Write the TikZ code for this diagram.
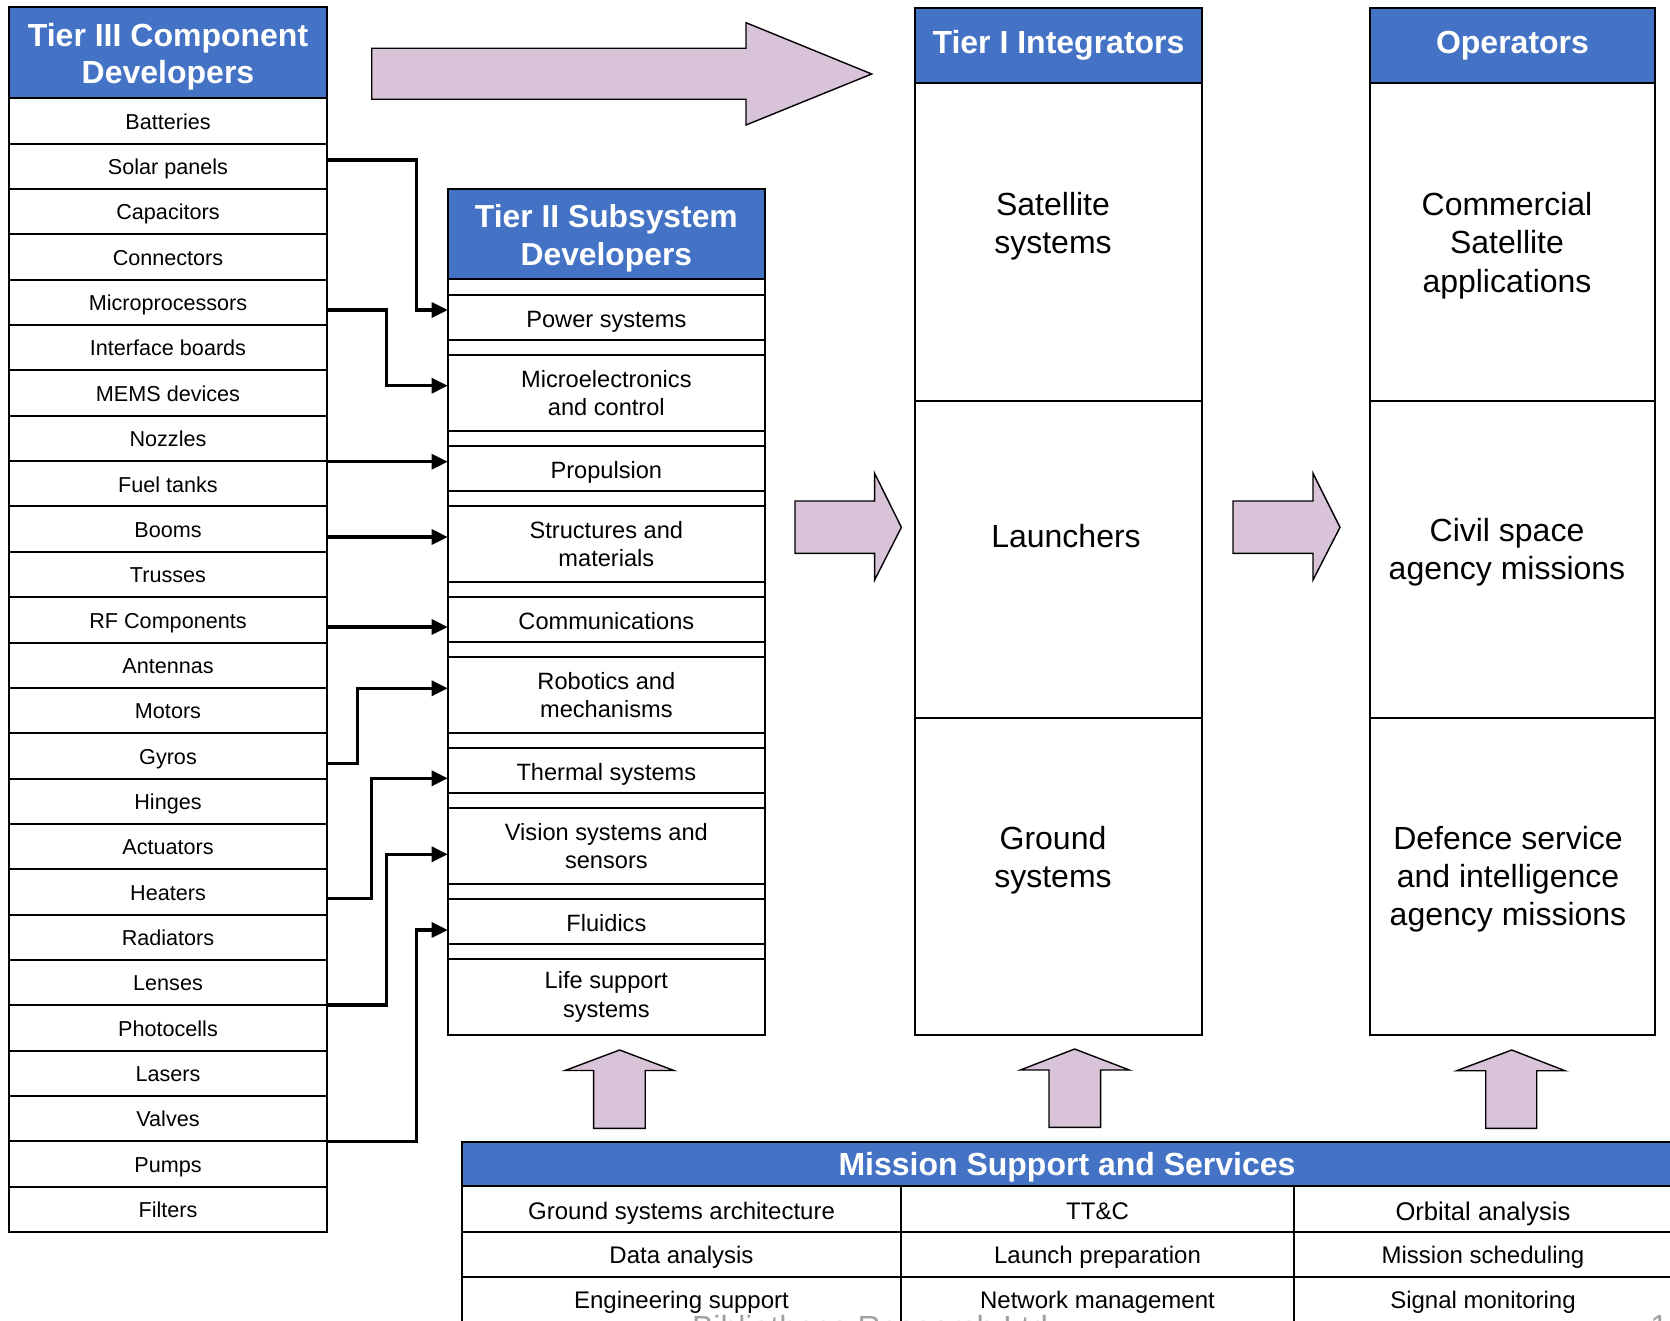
\documentclass[tikz,border=0pt]{standalone}
\usepackage{fontspec}
\setmainfont{Liberation Sans}
\usetikzlibrary{arrows.meta}
\definecolor{hdrblue}{RGB}{68,114,196}
\definecolor{flowpink}{RGB}{217,195,217}
\definecolor{footgray}{RGB}{160,160,160}

\newcommand{\sizefont}[2]{\fontsize{#1}{#2}\selectfont}

\tikzset{
  cell/.style={draw=black, line width=1pt, inner sep=0pt, outer sep=0pt, align=center},
  headbox/.style={cell, fill=hdrblue, text=white},
  headtext/.style={inner sep=0pt, align=center, text=white},
  complist/.style={cell, minimum width=159pt, minimum height=22.675pt,
     font=\sizefont{10.8}{13}, text height=8.25pt, text depth=0pt},
  subone/.style={cell, minimum width=158.65pt, minimum height=22.5pt,
     font=\sizefont{11.8}{14.3}, text height=9.8pt, text depth=0pt},
  subtwo/.style={cell, minimum width=158.65pt, minimum height=38pt,
     font=\sizefont{11.8}{14.3}},
  bigcell/.style={cell, minimum height=158.75pt},
  bigtext/.style={inner sep=0pt, align=center, font=\sizefont{16}{19.2}},
  svc/.style={cell, font=\sizefont{12}{14}, text height=8.6pt, text depth=0pt},
  feed/.style={line width=1.6pt, -{Triangle[length=8pt,width=7.5pt]}, line join=miter},
  flow/.style={draw=black, line width=0.7pt, fill=flowpink, line join=miter},
  footer/.style={inner sep=0pt, text=footgray, font=\sizefont{16}{19}}
}

\begin{document}
\begin{tikzpicture}[x=0.5pt, y=-0.5pt]
\useasboundingbox (0,0) rectangle (1670,1321);
\clip (0,0) rectangle (1670,1321);
\fill[white] (0,0) rectangle (1670,1321);

% ---- Tier III column ----
\node[headbox, minimum width=159pt, minimum height=45.4pt] (hIII) at (168,52.9) {};
\node[headtext, font=\sizefont{16}{18.8}\bfseries] (hIIIt) at (168,56.7) {Tier III Component\\Developers};
\foreach \t [count=\k from 0] in {Batteries,Solar panels,Capacitors,Connectors,Microprocessors,Interface boards,MEMS devices,Nozzles,Fuel tanks,Booms,Trusses,RF Components,Antennas,Motors,Gyros,Hinges,Actuators,Heaters,Radiators,Lenses,Photocells,Lasers,Valves,Pumps,Filters}
  \node[complist] (c\k) at (168,{98.3+45.35*(\k+0.5)}) {\t};

% ---- Tier II column ----
\node[headbox, minimum width=158.65pt, minimum height=45pt] (hII) at (606.35,234.3) {};
\node[headtext, font=\sizefont{15.9}{19.2}\bfseries] (hIIt) at (606.35,238.5) {Tier II Subsystem\\Developers};
\node[subone] (s1) at (606.35,317.5) {Power systems};
\node[subtwo] (s2) at (606.35,393) {Microelectronics\\and control};
\node[subone] (s3) at (606.35,468.5) {Propulsion};
\node[subtwo] (s4) at (606.35,544) {Structures and\\materials};
\node[subone] (s5) at (606.35,619.5) {Communications};
\node[subtwo] (s6) at (606.35,695) {Robotics and\\mechanisms};
\node[subone] (s7) at (606.35,770.5) {Thermal systems};
\node[subtwo] (s8) at (606.35,846) {Vision systems and\\sensors};
\node[subone] (s9) at (606.35,921.5) {Fluidics};
\node[subtwo] (s10) at (606.35,997) {Life support\\systems};
\draw[line width=1pt] (hII.south west) rectangle (s10.south east);

% ---- Tier I column ----
\node[headbox, minimum width=143.5pt, minimum height=37.5pt,
      font=\sizefont{16}{18}\bfseries] (hI) at (1058.5,45.5) {Tier I Integrators};
\node[bigcell, minimum width=143.5pt] (i1) at (1058.5,241.75) {};
\node[bigcell, minimum width=143.5pt] (i2) at (1058.5,559.25) {};
\node[bigcell, minimum width=143.5pt] (i3) at (1058.5,876.5) {};
\node[bigtext] (i1t) at (1053,226.4) {Satellite\\systems};
\node[bigtext] (i2t) at (1066,535.9) {Launchers};
\node[bigtext] (i3t) at (1053,860.3) {Ground\\systems};

% ---- Operators column ----
\node[headbox, minimum width=142.5pt, minimum height=37.5pt,
      font=\sizefont{16}{18}\bfseries] (hO) at (1512.5,45.5) {Operators};
\node[bigcell, minimum width=142.5pt] (o1) at (1512.5,241.75) {};
\node[bigcell, minimum width=142.5pt] (o2) at (1512.5,559.25) {};
\node[bigcell, minimum width=142.5pt] (o3) at (1512.5,876.5) {};
\node[bigtext] (o1t) at (1507,245.5) {Commercial\\Satellite\\applications};
\node[bigtext] (o2t) at (1507,552.2) {Civil space\\agency missions};
\node[bigtext] (o3t) at (1508,879.2) {Defence service\\and intelligence\\agency missions};

% ---- Mission support table ----
\node[headbox, minimum width=605pt, minimum height=22.15pt,
      font=\sizefont{16}{19}\bfseries, text height=11.5pt, text depth=0pt] (hM) at (1067,1163.85) {Mission Support and Services};
\node[svc, minimum width=219.5pt, minimum height=23pt, text height=10.7pt] (m11) at (681.5,1209) {Ground systems architecture};
\node[svc, minimum width=196.5pt, minimum height=23pt, text height=10.7pt] (m12) at (1097.5,1209) {TT\&C};
\node[svc, minimum width=189pt, minimum height=23pt, font=\sizefont{12.8}{15}, text height=11.2pt] (m13) at (1483,1209) {Orbital analysis};
\node[svc, minimum width=219.5pt, minimum height=22.5pt] (m21) at (681.5,1254.5) {Data analysis};
\node[svc, minimum width=196.5pt, minimum height=22.5pt] (m22) at (1097.5,1254.5) {Launch preparation};
\node[svc, minimum width=189pt, minimum height=22.5pt] (m23) at (1483,1254.5) {Mission scheduling};
\node[svc, minimum width=219.5pt, minimum height=23pt] (m31) at (681.5,1300) {Engineering support};
\node[svc, minimum width=196.5pt, minimum height=23pt] (m32) at (1097.5,1300) {Network management};
\node[svc, minimum width=189pt, minimum height=23pt] (m33) at (1483,1300) {Signal monitoring};

% ---- Block arrows ----
\draw[flow] (371.7,48.3) -- (746,48.3) -- (746,22.7) -- (871.7,74) -- (746,125) -- (746,99.3) -- (371.7,99.3) -- cycle;
\draw[flow] (795,501) -- (874.6,501) -- (874.6,473.3) -- (901.4,527.3) -- (874.6,580) -- (874.6,553.3) -- (795,553.3) -- cycle;
\draw[flow] (1233,501) -- (1313,501) -- (1313,473.3) -- (1340,527.3) -- (1313,580) -- (1313,553.3) -- (1233,553.3) -- cycle;
\draw[flow] (593.6,1128.3) -- (593.6,1070.5) -- (565,1070.5) -- (619.6,1050) -- (674,1070.5) -- (645.2,1070.5) -- (645.2,1128.3) -- cycle;
\draw[flow] (1049,1127.3) -- (1049,1070) -- (1020.3,1070) -- (1074.6,1049) -- (1129.4,1070) -- (1100.6,1070) -- (1100.6,1127.3) -- cycle;
\draw[flow] (1485.7,1128.3) -- (1485.7,1070.7) -- (1456.7,1070.7) -- (1511.7,1050) -- (1565,1070.7) -- (1536.7,1070.7) -- (1536.7,1128.3) -- cycle;

% ---- Component to subsystem feeds ----
\coordinate (p1) at ([yshift=3.15pt]c1.east);
\coordinate (q1) at ([yshift=3.75pt]s1.west);
\draw[feed] (p1) -- ++(89.7,0) |- (q1);
\coordinate (p2) at ([yshift=-3.8pt]c4.east);
\coordinate (q2) at ([yshift=3.65pt]s2.west);
\draw[feed] (p2) -- ++(59.7,0) |- (q2);
\coordinate (p3) at ([yshift=-11.65pt]c7.east);
\draw[feed] (p3) -- (p3 -| s3.west);
\coordinate (p4) at ([yshift=-3.95pt]c9.east);
\draw[feed] (p4) -- (p4 -| s4.west);
\coordinate (p5) at ([yshift=-3.6pt]c11.east);
\draw[feed] (p5) -- (p5 -| s5.west);
\coordinate (p6) at ([yshift=-3.7pt]c14.east);
\coordinate (q6) at ([yshift=3.35pt]s6.west);
\draw[feed] (p6) -- ++(30.3,0) |- (q6);
\coordinate (p7) at ([yshift=-3.2pt]c17.east);
\coordinate (q7) at ([yshift=-3.9pt]s7.west);
\draw[feed] (p7) -- ++(44.7,0) |- (q7);
\coordinate (p8) at ([yshift=-11.2pt]c19.east);
\coordinate (q8) at ([yshift=-4.15pt]s8.west);
\draw[feed] (p8) -- ++(59.7,0) |- (q8);
\coordinate (p9) at ([yshift=-11.5pt]c22.east);
\coordinate (q9) at ([yshift=-4.25pt]s9.west);
\draw[feed] (p9) -- ++(89.7,0) |- (q9);

% ---- Page footer ----
\node[footer, anchor=north] (foot) at (870,1315) {Bibliotheca Research Ltd};
\node[footer, anchor=north west] (page) at (1650,1315) {14};
\end{tikzpicture}
\end{document}
